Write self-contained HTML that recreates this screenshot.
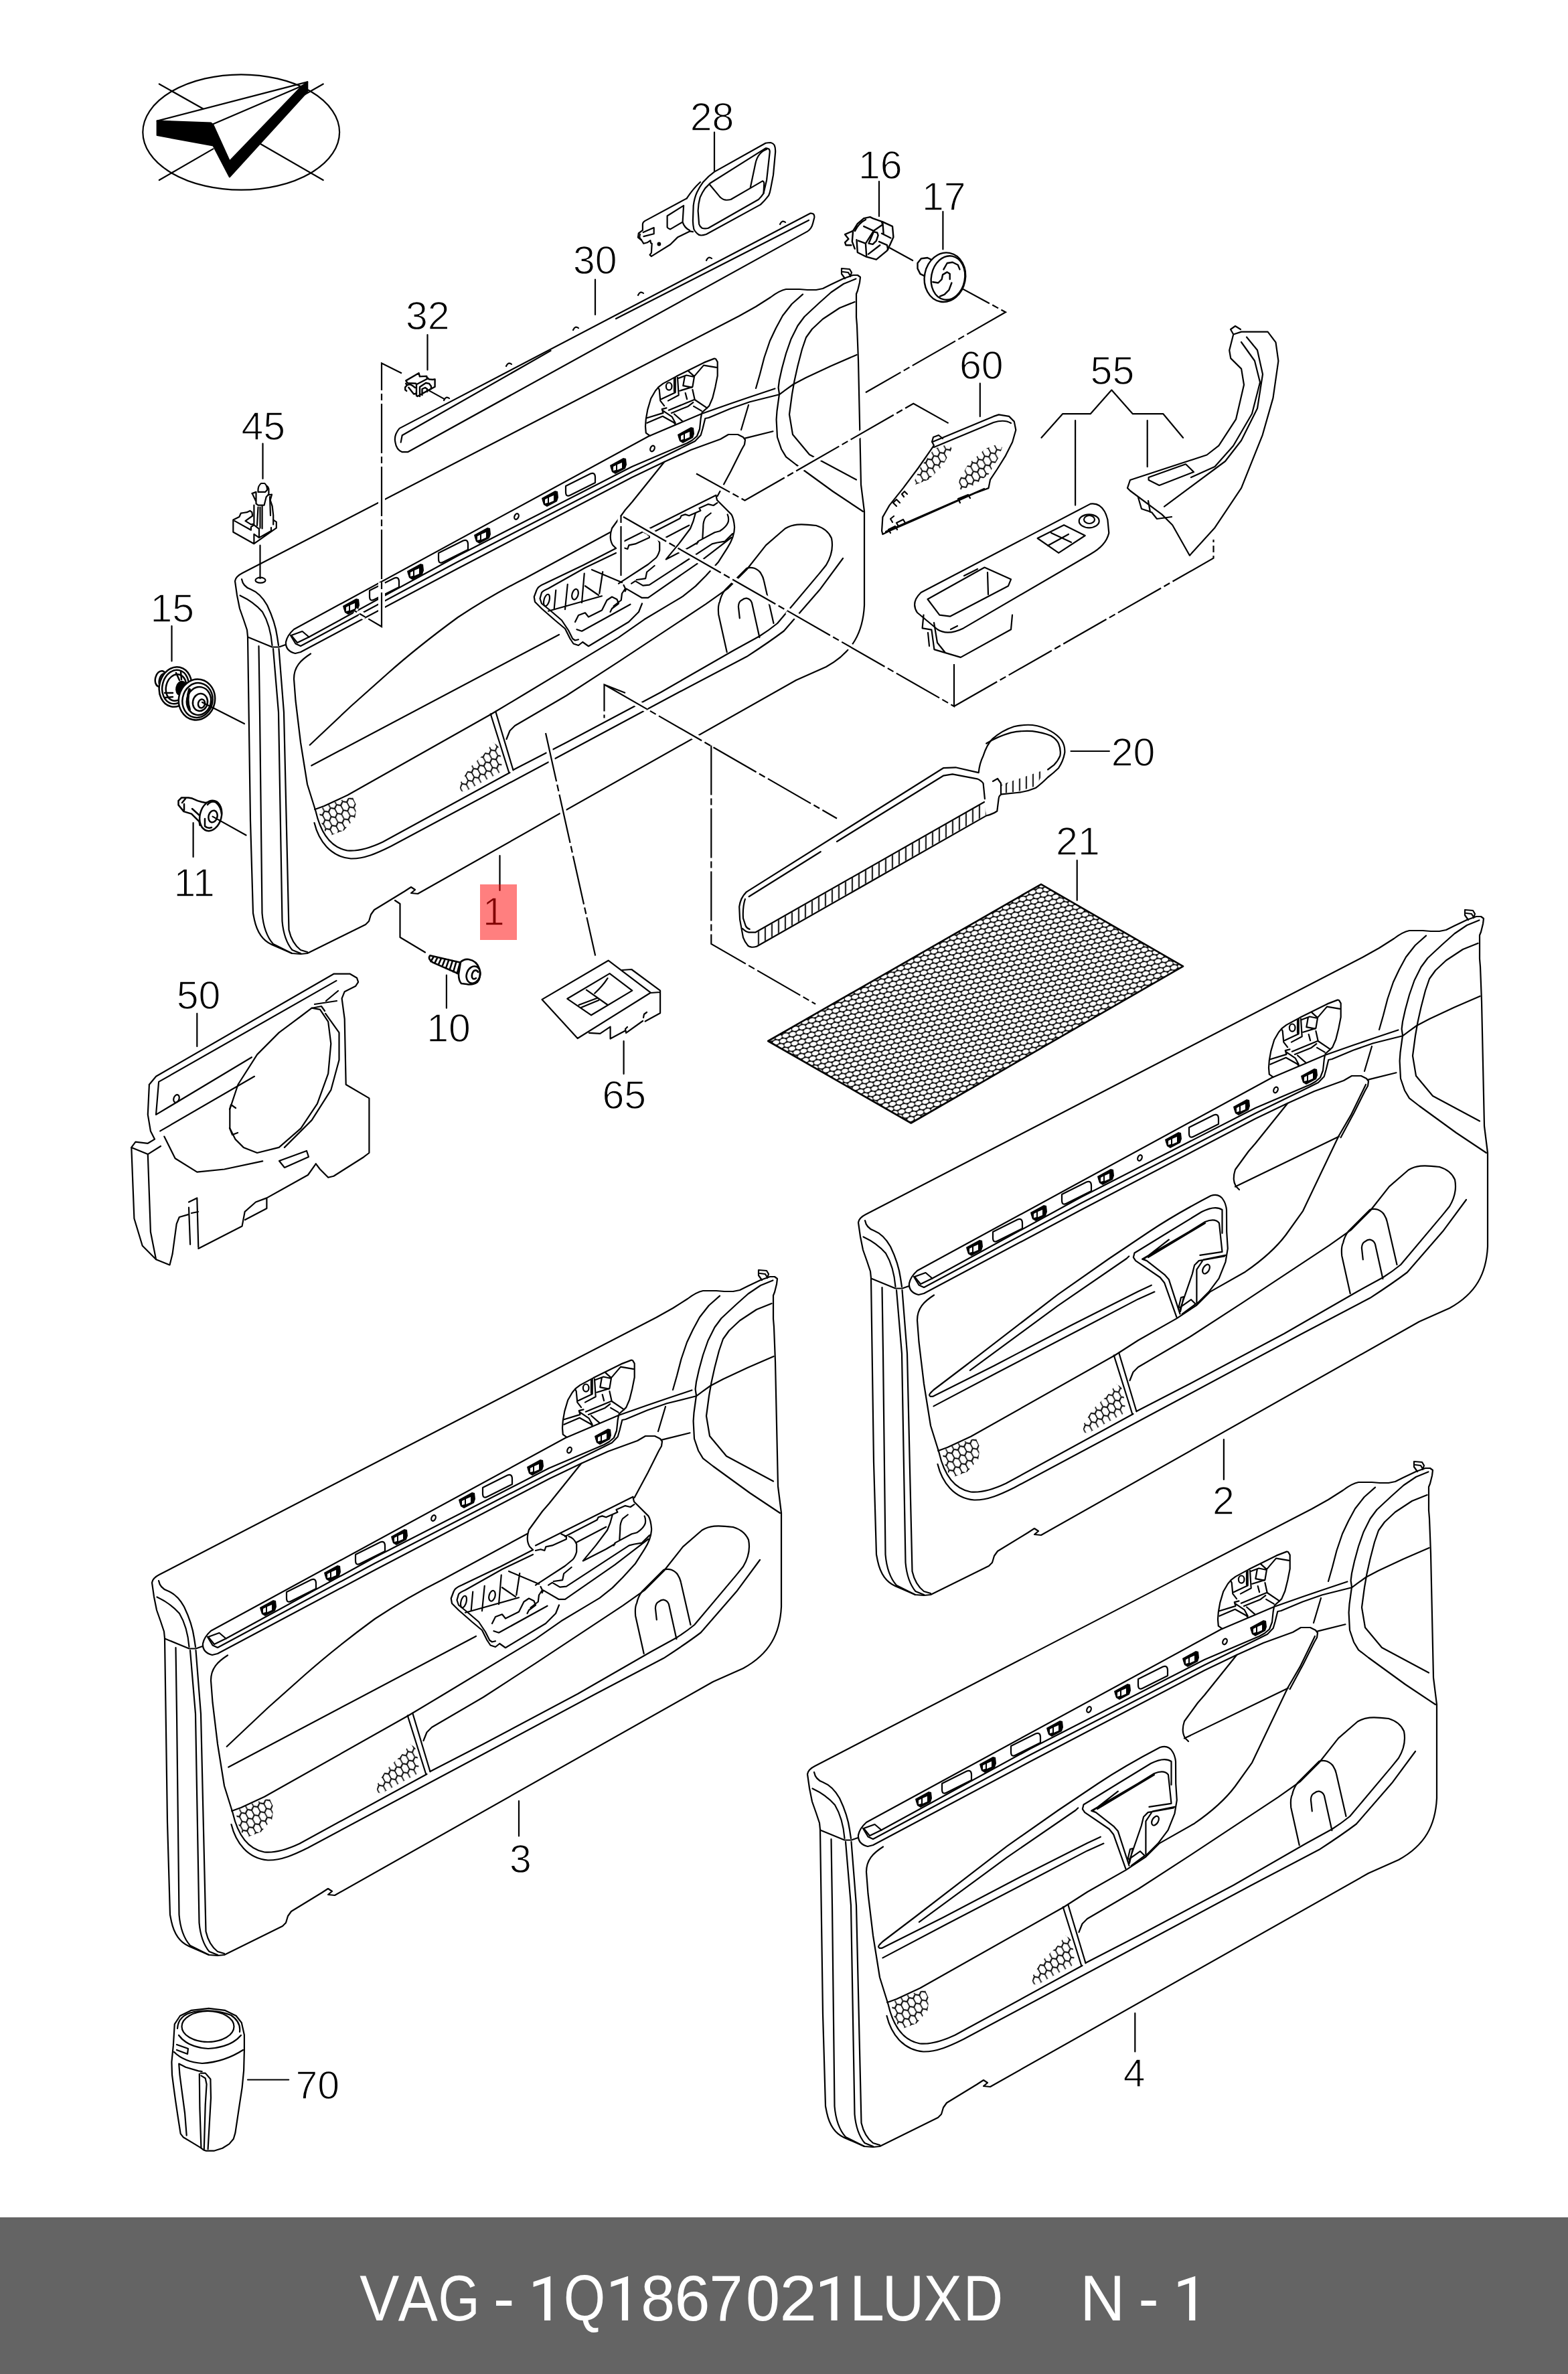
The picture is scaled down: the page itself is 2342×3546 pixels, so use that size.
<!DOCTYPE html>
<html><head><meta charset="utf-8"><style>
html,body{margin:0;padding:0;background:#fff;width:2342px;height:3546px;overflow:hidden}
svg{position:absolute;left:0;top:0;display:block}
</style></head><body>
<svg width="2342" height="3546" viewBox="0 0 2342 3546">
<defs>
<pattern id="teeth" patternUnits="userSpaceOnUse" width="10" height="40" patternTransform="skewY(-29)">
<path d="M3,0 L3,40 M3,6 Q4,2 7,2" fill="none" stroke="#000" stroke-width="2"/>
</pattern>
<pattern id="hexbig" patternUnits="userSpaceOnUse" width="10.8" height="14" patternTransform="rotate(-12)">
<rect width="10.8" height="14" fill="#000"/><g fill="#fff"><ellipse cx="0" cy="0" rx="5.0" ry="3.2"/><ellipse cx="10.8" cy="0" rx="5.0" ry="3.2"/><ellipse cx="5.4" cy="7" rx="5.0" ry="3.2"/><ellipse cx="0" cy="14" rx="5.0" ry="3.2"/><ellipse cx="10.8" cy="14" rx="5.0" ry="3.2"/></g>
</pattern>
<pattern id="hexs" patternUnits="userSpaceOnUse" width="12.12" height="21.00" patternTransform="rotate(-28) scale(0.85,1.15)">
<path d="M0,3.50 L6.06,0 L12.12,3.50 M0,3.50 L0,10.50 M12.12,3.50 L12.12,10.50 M0,10.50 L6.06,14.00 L12.12,10.50 M6.06,14.00 L6.06,21.00 M6.06,0 L6.06,-1" fill="none" stroke="#000" stroke-width="1.9"/>
</pattern>

<g id="pbase">
<!-- outer contour -->
<path d="M238,2352 L980,1968 L1005,1954 L1027,1940 Q1040,1930 1050,1928 L1070,1928 L1082,1929 L1095,1929 L1105,1927 L1117,1921 L1136,1912 L1150,1907 L1157,1907 L1161,1910 L1160,1918 L1157,1930 L1155,1935 L1155,1970 L1156,1982 L1158,2034 L1162,2220 L1167,2260 L1167,2400 C1165,2440 1150,2470 1110,2492 L1065,2512 L500,2831 L490,2830 L496,2825 L490,2821 L480,2827.5 L435,2855 L430,2862 L427,2872 L422,2877 L335,2920 L325,2921 L312,2920 L282,2907 Q262,2898 256,2870 L254,2860 L250,2722 L246,2447 L245,2437 L240,2422 L234,2405 L230,2385 L227,2364 Q228,2357 238,2352 Z"/>
<path d="M1138,1912 L1133,1905 L1133,1897 L1145,1898 L1148,1903 L1146,1909 M1135,1902 L1143,1903 L1146,1908"/>
<!-- cap -->
<path d="M237,2361 Q239,2372 250,2376 Q265,2382 275,2400 Q287,2425 290,2447 L292,2460"/>
<path d="M234.5,2385.5 Q255,2395 268,2410 Q280,2430 282.5,2460"/>
<path d="M246,2447.5 L282.5,2462.5 L292.5,2462.5 L302.5,2459"/>
<!-- strip -->
<path d="M262.5,2461 L264,2560 L267.5,2860 Q270,2890 284,2906 L312,2920"/>
<path d="M284,2465 L292,2560 L297.5,2872 Q300,2900 312.5,2915 L325,2920"/>
<path d="M292.5,2465 L300,2560 L307.5,2885 Q312,2905 325,2915 L335,2918"/>
<!-- rail -->
<path d="M846,2147 L315,2436 Q305,2445 303,2455 Q302,2468 317,2472 L325,2470 L560,2345 L820,2209 L868,2186 L908,2168 L952,2152 L964,2145 L978,2145 L986,2149 L989,2153 L988,2160 L984,2167 L967.5,2200 L947.6,2237"/>
<path d="M310,2445 L317.5,2457.5 L325,2461 L560,2335 L820,2201 L902,2161 L914,2155 L922.7,2146 L925.6,2136 L929.3,2121 L934.4,2120 L966.7,2106.5 L996,2096.3 L1040,2085.3 L1049,2078.7 L1061,2070 L1080,2060 L1117.5,2042.5 L1155.6,2026"/>
<path d="M337.5,2447.5 L560,2326 L820,2193 L902,2158 L910,2153.5 L917,2147.5 L921,2137 L922.7,2121 L924,2114 M846.4,2147 L924,2114 L966.7,2099 L996,2089 L1033.4,2076.5"/>
<path d="M311,2445 L327.5,2439 L337.5,2447.5 L320,2456 Z"/>
<path d="M988.7,2150.6 L1030.5,2140.3"/>
<path d="M868.4,2185.8 L820,2246 L810,2257.5 L790,2285 Q785,2300 791,2310 L796,2315"/>
<!-- ovals -->
<use href="#oval" x="450" y="2376"/>
<use href="#oval" x="553" y="2320"/>
<use href="#oval" x="743" y="2220"/>
<ellipse cx="647.5" cy="2267.5" rx="3" ry="4.5" transform="rotate(25 647.5 2267.5)"/>
<ellipse cx="850.5" cy="2166" rx="3" ry="4.5" transform="rotate(25 850.5 2166)"/>
<!-- clips -->
<use href="#clip" x="400" y="2402"/>
<use href="#clip" x="496" y="2350"/>
<use href="#clip" x="596" y="2296"/>
<use href="#clip" x="697" y="2241"/>
<use href="#clip" x="799" y="2192"/>
<use href="#clip" x="900" y="2146"/>
<!-- handle recess -->
<path d="M846.6,2146.9 L840.8,2142.7 L840,2132.8 L840.8,2122 L843.3,2107.9 L848.2,2091.3 L854.9,2079.7 L859.9,2073.9 L866.5,2068.9 L886.4,2058.1 L927.8,2037.4 L942.8,2031.6 Q945,2031.5 945.2,2032.4 L947.7,2036.6 L947.7,2057.3 L944.4,2073.9 L940.3,2090.5 L935.3,2102.1 L931.2,2106.2 L924.5,2112"/>
<path d="M859,2074.7 L860.7,2078 L862.3,2094.6 L868.1,2102.1 M864,2092.1 L884.7,2082.2 L884.7,2059.8 M883,2062 L883,2081 M888,2059.8 L889.7,2086.3 L873.9,2094.6 M888,2061.5 L901.3,2056.5 L912.9,2059 L910.4,2073.9 L891.4,2079.7 M898.8,2058.1 L896.3,2072.2 L909.6,2074.7 M903.8,2049.9 L912.9,2058.1 L927,2041.6 L946.1,2044.9 M910.4,2078 L913.7,2093 L932,2105.4 M899.7,2083 L902.1,2092.1 M874.8,2108.7 L912.9,2093 M878.9,2112.9 L903.8,2102.9 L911.3,2097.1 M912.1,2102.9 L923.7,2109.6 M842.4,2120.3 L866.5,2112.9 L864.8,2107.1 L871.5,2105.4 M842.4,2127.8 L865.7,2117.8 L882.2,2127 L884.7,2129.5 M866.5,2109.6 L879.8,2118.7 L884.7,2127.8 M883.1,2114.5 L895.5,2125.3"/>
<ellipse cx="875.2" cy="2073.1" rx="4.3" ry="5.6"/>
<!-- window curves -->
<path d="M1075,1935.6 L1058.75,1950 L1045,1967.5 L1035,1986 L1026,2005 L1017.5,2030 L1011,2055 L1005,2076 M994,2101 L983,2138"/>
<path d="M1154.4,1912.5 L1136,1920 L1117.5,1932.5 L1099,1949 L1077.5,1969 L1067.5,1982.5 L1057.5,2002.5 L1050,2024 L1044,2046 L1040,2064 L1038.6,2075 L1040,2084.5 L1036.5,2110 L1035.6,2122.7 L1037,2149 L1043,2166.7 L1050,2178.4 L1065,2190 L1120,2230 L1165,2260"/>
<path d="M1152.5,1947 L1130,1956 L1105,1972.5 L1089,1987.5 L1080,2000 L1074,2017.5 L1067.5,2042.5 L1062.5,2065 L1059,2085 L1055,2115 L1060,2145 L1085,2175 L1155,2212.5"/>
<!-- insert -->
<path d="M340,2472.5 C325,2482 315,2492 315,2510 L317.5,2542.5 L325,2605 L335,2667.5 L347.5,2707.5 C355,2740 370,2762 395,2766.5 C412,2768 430,2762 447.5,2753.75 L637.5,2650 M642.5,2646 L722,2605 L863.1,2530 L972.2,2467.2 L1010.4,2446.2 Q1025,2437 1037.2,2427 L1100,2352.4 L1110,2340 Q1122,2320 1118,2300 Q1112,2286 1095,2281"/>
<path d="M346.25,2705 L360,2700 L395,2683.75 L610,2562.5"/>
<path d="M345.5,2725 C352,2752 370,2776 400,2778.5 C420,2779 440,2770 460,2760 L722,2620 L889.9,2530 L991.3,2476.8 Q1025,2455 1046.8,2438.5 L1100,2377.3 L1135,2330"/>
<path d="M608.75,2562.5 L636.25,2650 M616.25,2558.75 L642.5,2646.25"/>
<path d="M632.5,2600 L637.5,2587.5 L645,2580 L722,2535 L800,2484.4 L930.1,2398.4 L962.6,2375.4 L991.3,2346.7 L1020,2310.4 L1048.7,2285.5 C1060,2279 1070,2278 1095,2281"/>
<path d="M961.7,2470.1 L949.2,2413.7 Q948,2400 951.1,2394.5 Q953,2385 958.8,2377.3 L991.3,2344.8 Q997,2343 1002.8,2344.8 Q1010,2348 1012.4,2352.4 Q1016,2358 1017.1,2363.9 L1031.5,2427 M980.8,2419.4 L978.9,2402.2 Q979,2395 983.7,2392.6 Q988,2389 991.3,2389.7 Q997,2391 999,2396.4 L1010.4,2448.1"/>
<use href="#mesh1" />
</g>
<g id="typeA">
<path d="M341.25,2639.5 L711,2444"/>
<path d="M338.75,2608.75 L400,2551 L455,2502 Q500,2462 560,2418 Q610,2385 660,2360 L787.5,2291"/>
<path d="M610,2562.5 L660,2532.5 L800,2448.1 L838.3,2421.3 L876.5,2398.4 L895.7,2386.9 L914.8,2371.6 L930.1,2356.3 L949.2,2335.2 L962.6,2314.2 Q973,2298 973.1,2283.6 Q972,2270 968.4,2264.4 L947,2243 L945.4,2236"/>
<path d="M800,2308.4 L945.4,2235.7"/>
<path d="M796,2315 L747.5,2340 L690,2367.5 Q679,2372 677.5,2377.5 L673.75,2387.5 L675,2395 L685,2405 L705,2422.5 L720,2435 L727.5,2450 L732.5,2457.5 L740,2460 L746.25,2455 L755,2461.25 L815,2425 L830,2410 L835,2397.5"/>
<path d="M796,2322 L750,2344 L695,2375 Q686,2379 685,2381.25 L682.5,2390 L685,2397.5 L697.5,2407.5 L715,2422.5 L725,2437.5 L731.25,2450 L735,2452.5 L740,2451.25"/>
<path d="M737.5,2436.25 L745,2438.75 L817.5,2398.75 M706.25,2377.5 L703.75,2405 M723.75,2368.75 L720,2406.25 M748.75,2352.5 L745,2396.25 M776.25,2350 L771.25,2382.5 M750,2371.25 L770,2385 M695,2408.75 L775,2386.25 M760,2347 L805,2366"/>
<ellipse cx="735" cy="2383.75" rx="4.5" ry="8" transform="rotate(15 735 2383.75)"/>
<ellipse cx="692.5" cy="2392.5" rx="4" ry="9" transform="rotate(15 692.5 2392.5)"/>
<path d="M735,2425 L740,2415 L750,2411.25 L755,2417.5 L775,2407.5 L782.5,2392.5 L790,2387.5 L797.5,2391.25 L800,2397.5 L790,2405 L787.5,2410 M807.5,2370 L810,2375 L805,2382.5 L803.75,2392.5 L792.5,2401.25"/>
<path d="M968.4,2298.9 L918.6,2337.1 L844,2388.8 L834.4,2388.8 L811.5,2375.4 L809.6,2379.2"/>
<path d="M970.3,2293.1 L958.8,2304.6 L947.3,2306.5 L939.7,2308.4 L845.9,2369.7 L836.3,2370.6 L824.9,2363.9 L819.1,2367.7"/>
<path d="M800,2316 L807.6,2314.2 L813.4,2316 L815.3,2310.4 L824.9,2308.4 L845.9,2298.9 L845.9,2295 L838.3,2291.2 M844,2295 L891.8,2270.2 L893.7,2266.3 L899.5,2264.4 L905.2,2266.3 L922.4,2258.7 L920.5,2254.9 L933.9,2249.1 L941.6,2251 L947.3,2247.2"/>
<path d="M849.7,2295 Q857,2297 861.2,2306.5 L861.2,2318 Q859,2326 855.5,2329.5 L844,2339 L800,2367.7 M861.2,2303.7 L905.2,2280.7 M914.8,2262.5 Q912,2275 907.1,2285.5 L889.9,2308.4 L870.8,2331.4 M937.7,2262.5 L930.1,2268.3 Q926,2275 926.3,2283.6 L925.3,2300.8 M962.6,2264.4 Q965,2270 963.6,2275.9 Q961,2283 951.1,2289.3 L943.5,2291.2 L918.6,2304.6 L916.7,2308.4 M870.8,2331.4 L905,2314 L918.6,2306 M853.6,2341 L842.1,2350.5 L840.2,2360.1 L826.8,2362"/>
</g>
<g id="typeB">
<path d="M339.5,2638.4 L435,2588 L569.4,2518 L645,2478.4 L669.4,2467.6"/>
<path d="M335.7,2617.8 L339.5,2614 L386.9,2578 L525,2471.6 L601.5,2418 L661.1,2378 Q700,2352 753.6,2324 Q766,2320 772,2330 Q776,2336 777,2345"/>
<path d="M335.7,2617.8 Q331,2622 334.9,2623.9 L338,2623.9 L429.8,2578 L544.1,2518 L645,2467 L664.8,2457.7"/>
<path d="M393.9,2584.9 L525,2488.4 L627.5,2418 L631.2,2414.5"/>
<path d="M610,2562.5 L645,2540 L702.5,2507.4 L732.4,2487.5 L752.3,2467.6 L805,2437.7 Q845,2410 865.6,2382.5 L891.1,2346.8 L916.6,2293.2 L944.7,2234.5 L962.6,2203.9 L985,2158"/>
<path d="M647.8,2404.5 L639.5,2409.5 L637.9,2416.1 L641.2,2421.1 L677.7,2446 L684.3,2454.3 L702.5,2505.7 M647.8,2404.5 L690.9,2378 L740,2348 Q760,2338 770.5,2345 L770.5,2380"/>
<path d="M651.1,2418.6 L657.8,2421.1 L684.3,2441.8 L690.9,2449.3 L707.5,2500.7 M651.1,2418.6 L720.8,2378 L745,2363 Q760,2357 766,2365 L770.5,2407.9 L737.4,2412.8 M654.5,2417.8 L690.9,2389.6 M660,2416 L745,2365"/>
<path d="M732.4,2485.8 L750.6,2467.6 L765.6,2447.7 L775.5,2422.8 L778.8,2402.9 L777.2,2378 L777,2345 M773.9,2414.5 L735.7,2421.1 L729.1,2427.7 L725.8,2441 L707.5,2494.1 M732.4,2484.1 L732.4,2434.4 L742.3,2419.5 L775.5,2412.8 M707.5,2490.8 L724.1,2479.2 L730.7,2485.8 L710.8,2500.7 M705,2493 L709,2476 L713,2475 L708,2497"/>
<ellipse cx="746.5" cy="2433.6" rx="4.5" ry="7.5" transform="rotate(30 746.5 2433.6)"/>
<path d="M790,2310.5 L945,2235.5"/>
</g>
<g id="clip"><path d="M-12,-1 L8,-12 L12,-11 L13,-2 L11,4 L-4,12 L-9,9 L-11,3 Z" fill="#000" stroke="none"/><path d="M-7,1 L-3,-1 L-3,6 L-7,7 Z M-1,-2 L6,-5 L6,3 L-1,6 Z" fill="#fff" stroke="none"/></g>
<path id="oval" d="M-22,2 L15,-16.5 Q22,-19 22,-11 L22,-3 L-15,15.5 Q-22,19 -22,11 Z"/>
<g id="mesh1" stroke="none"><path fill="url(#hexs)" d="M352.5,2707.5 L360,2700 L380,2692.5 L402.5,2686.25 L408.75,2700 L406.25,2717.5 L390,2736.25 L370,2743.75 L361.25,2737.5 L355,2722.5 Z"/><path fill="url(#hexs)" d="M562.5,2677.5 L563.75,2665 L577.5,2642.5 L598.75,2622.5 L612.5,2605 L620,2610 L626.25,2635 L622.5,2650 L590,2667.5 L570,2678.75 Z"/></g>
</defs>
<g fill="none" stroke="#000" stroke-width="2.2" stroke-linejoin="round" stroke-linecap="round">
<use href="#pbase"/><use href="#typeA"/>
<g transform="translate(124,-1496)"><use href="#pbase"/><use href="#typeA"/></g>
<g transform="translate(1055,-538)"><use href="#pbase"/><use href="#typeB"/></g>
<g transform="translate(979,286)"><use href="#pbase"/><use href="#typeB"/></g>
</g>


<!-- dash-dot lines -->
<g fill="none" stroke-linejoin="miter" stroke-linecap="butt">
<use href="#dd" stroke="#fff" stroke-width="10" stroke-dasharray="74 5 10 5"/>
<use href="#dd" stroke="#000" stroke-width="2.2" stroke-dasharray="74 5 10 5"/>
<g id="dd" stroke="inherit">
<path d="M600,557.5 L570,542.5 L570,936 L530,912.5"/>
<path d="M927.5,860 L927.5,770 L1425,1055 L1425,992 M1425,1055 L1812.5,833.7 L1812.5,806"/>
<path d="M1412.8,417.9 L1502,466.3 L1292.9,586.2"/>
<path d="M1416.6,632.1 L1364.3,602.8 L1112.5,747.5 L1040,707.5"/>
<path d="M934,1035 L902.5,1022.5 L902.5,1072.5 M902.5,1022.5 L1250,1222.5"/>
<path d="M1062.3,1113.4 L1062.3,1409.9 L1218.1,1499.8"/>
<path d="M815,1095 L889.2,1427.6"/>
</g>
</g>

<!-- ===== PARTS ===== -->
<g id="parts" fill="none" stroke="#000" stroke-width="2.2" stroke-linejoin="round" stroke-linecap="round">
<!-- logo -->
<ellipse cx="360.2" cy="197.5" rx="146.9" ry="86.2"/>
<path d="M237.8,125.5 L303,162.2 M387.8,214.3 L482.7,269 M482.7,125.5 L444.9,147 M318.4,222.4 L237.8,269"/>
<path d="M234.7,180.6 L315.3,183.7 L318.4,186.7 L342.9,240.8 L451,128.6 L459.2,122.4 L459.2,136.7 L342.9,264.3 L318.4,217.3 L234.7,202 Z" fill="#000"/>
<path d="M234.7,180.6 L459.2,122.4 M317.3,185.7 L453,127.6"/>
<!-- 28 handle -->
<path d="M1067,256.6 L1143.6,213.8 Q1147,213 1151.2,213 Q1155,214 1156.6,216.8 Q1158.5,221 1158.1,227.6 L1155,261.2 L1151.2,281.1 Q1150,288 1148.2,291.8 Q1142,300 1135.9,305.6 L1054.8,350 Q1050,351.5 1047.1,351.5 Q1043,351 1041,348.5 Q1038,346 1036.4,342.4 Q1035,336 1034.9,330.1 L1035.7,307.1 Q1037,296 1041,287.2 Q1045,279 1050.2,271.9 Q1058,263 1067,256.6 Z"/>
<path d="M1060.9,273.5 L1143.6,221.4 Q1146,221 1148.9,223 Q1150,225 1149.7,227.6 L1145.1,268.9 L1140.5,288.8 Q1137,294 1132.9,298 L1057.9,340.8 Q1053,342 1048.7,340.8 Q1045,338 1044.1,334.7 L1042.6,314.8 Q1043,304 1045.6,294.9 Q1049,287 1053.3,281.1 Z"/>
<path d="M1059.4,275 L1074.7,293.4 Q1079,298 1083.9,298.7 Q1088,299 1091.5,298 L1120.6,281.1 L1139,270.4 Q1141,271 1141.3,273.5 L1140.5,288.8 M1120.6,281.1 L1128.3,244.4 Q1130,236 1134.4,230.6 Q1139,225 1145.1,223"/>
<path d="M1025.7,296.4 L963,330.1 Q960,332 959.9,334.7 L959.9,343.9 L953.8,348.5 L953,354.6 L958.4,359.2 L961.4,363.8 L966.8,362.3 L971.4,359.2 L972.1,363 L973.7,363.8 L972.9,377.6 L970.6,380.6 L972.9,382.9 L1001.2,365.3 L1011.9,354.6 L1030.3,345.4 L1034.9,346.2"/>
<path d="M996.6,322.5 L1021.1,307.1 L1019.6,331.6 L1001.2,342.4 Q997,341 996.6,339.3 Z M1025.7,296.4 Q1035,282 1046,272 M1019.6,331.6 Q1022,340 1030,344"/>
<path d="M960.7,347 L976.7,340.1 L976.7,349.2 L961.4,353.1 M956,350 Q954,356 958,358"/>
<circle cx="984.4" cy="364.5" r="1.8" fill="#000"/>
<!-- 30 strip -->
<path d="M596.6,639.9 L1210.1,318.7 Q1217,318 1216.3,324.9 L1214.2,333.2 Q1212,342 1206,345.6 L609,675.2 L600.7,675.2 Q592,672 590.4,660.6 Q588,650 596.6,639.9 Z"/>
<path d="M598.7,660.6 L600.7,650.3 L822.5,523.9 M920,476 L1208,329"/>
<path d="M663,598 q3,-7 8,-3 M756,547 q3,-7 8,-3 M856,493 q3,-7 8,-3 M953,441 q3,-7 8,-3 M1055,389 q3,-7 8,-3 M1165,335 q3,-7 8,-3"/>
<!-- 32 clip -->
<path d="M606.2,568.6 L625.6,557.3 L626.9,562.4 L637.3,561.9 L637.9,566 L622,574.2 L621,572.7 L608.8,572.1 Z M637.9,564 L640.9,566.5 L646,567 L649.6,566.5 L649.6,577.8 L639.9,582.9 L623.6,592 L622,591 L622,579.8 M606.2,572.7 L607.8,575.7 L605.2,578.3 L605.2,582.3 L607.2,583.9 M610.3,578.8 L618,588.5 L621.5,588 L622,584.9 M608,575 L612,574 L616,576 L620,579 M627,592 L627,578 L636,572 L641,573 L644,577 L644,581 M630.5,590 L630.5,581 L635,579 L638,581 L638,585 M622,574.2 L622,580" stroke-width="2.4"/>
<path d="M639.9,582.9 L663.9,596.1"/>
<!-- 45 -->
<path d="M385.5,733.4 Q385,726 390,722 L395.3,722 Q399,725 399.1,731.8 L396.1,734.9 L385.5,734.9 Z M382.5,735.6 L382.5,752.3 L385.5,754.6 L394.6,754.6 L397.6,742.5 L401.4,737.9 L401.4,730.3 Q400,726 398.4,725.8 M376.4,737.1 L382.5,734.9 M377.1,737.9 L382.5,749.3 M400.7,739.4 L406,738.7 L403.7,747 L406.7,756.1 L408.2,769.7 L408.2,783.4"/>
<path d="M379.4,754.6 L379.4,781.1 M385.5,757.6 L384,784.9 M388.5,757.6 L388.5,788.7 M391.6,756.1 L391.6,789.5 M403,742 L404,770"/>
<path d="M348.3,776.6 L357.4,772 L359.7,766.7 L363.5,766 L368.8,765.2 L373.4,762.9 L376.4,765.2 L377.1,770.5 L366.5,778.1 L374.9,783.4 L379.4,782.6 M348.3,776.6 L348.3,794.8 L379.4,812.2 L379.4,797.8 L387,803.1 M350.6,778.1 L374.9,791.7 L374.9,787.2 L379.4,784.2 L387,790.2 M379.4,812.2 L412.8,788.7 L412.8,779.6 L408.2,776.6 M387,803.1 L405,793 L405,788 M387,790.2 L387,803.1"/>
<ellipse cx="389" cy="866.7" rx="7.5" ry="4"/>
<!-- 15 -->
<g stroke-width="2.5">
<ellipse cx="240" cy="1014" rx="8" ry="12" transform="rotate(13 240 1014)"/>
<ellipse cx="243" cy="1016" rx="5" ry="10" transform="rotate(13 243 1016)"/>
<ellipse cx="262" cy="1026" rx="24" ry="30" fill="#fff" transform="rotate(13 262 1026)"/>
<ellipse cx="262" cy="1026" rx="19.5" ry="25.5" transform="rotate(13 262 1026)"/>
<ellipse cx="263" cy="1027" rx="15" ry="20" transform="rotate(13 263 1027)"/>
<path d="M246,1035 L258,1035 M246,1042 L258,1041 M263,1005 L268,1016 M270,1003 L271,1015"/>
<ellipse cx="270.5" cy="1028" rx="7" ry="10" fill="#000" transform="rotate(13 270.5 1028)"/>
<ellipse cx="294" cy="1045" rx="27" ry="30.5" fill="#fff" transform="rotate(11 294 1045)"/>
<ellipse cx="295" cy="1046" rx="22.5" ry="26" transform="rotate(11 295 1046)"/>
<ellipse cx="297" cy="1047" rx="18" ry="21" transform="rotate(11 297 1047)"/>
<ellipse cx="299" cy="1049" rx="11" ry="13" transform="rotate(11 299 1049)"/>
<ellipse cx="301" cy="1051" rx="5" ry="6.5" transform="rotate(11 301 1051)"/>
<path d="M283,1030 Q278,1045 283,1060" stroke-width="4"/>
</g>
<!-- 11 -->
<g stroke-width="2.5">
<path d="M266.5,1196.1 L271.1,1191.5 L281.4,1191.5 L287.1,1192.6 L295.2,1196.1 L300.9,1197.8 L306.7,1198.9 L310.1,1198.4 M266.5,1196.1 L266.5,1202.4 L274.5,1212.1 L286,1215.6 L297.5,1227.1 L298.6,1232.8 M275,1201 L275,1210 M287,1208 L298,1218 M277,1193 L272,1199"/>
<ellipse cx="314.7" cy="1218.5" rx="16" ry="23" fill="#fff" transform="rotate(15 314.7 1218.5)"/>
<path d="M310,1202 Q316,1195 323,1199 Q330,1205 331,1216 M306,1223 L306,1234 Q310,1238 316,1236"/>
<ellipse cx="318" cy="1219.5" rx="6.5" ry="9" transform="rotate(15 318 1219.5)"/>
</g>
<!-- 10 screw -->
<g stroke-width="2.6">
<path d="M642.5,1427.2 L692.4,1438.7 M646.5,1437.6 L686,1455 M642.5,1427.2 Q638,1432 646.5,1437.6 M648.0,1428.5 L643.5,1436.2 M653.6,1429.8 L649.1,1438.8 M659.2,1431.0 L654.7,1441.3 M664.8,1432.3 L660.3,1443.9 M670.4,1433.6 L665.9,1446.4 M676.0,1434.9 L671.5,1448.9 M681.6,1436.2 L677.1,1451.5 M687.2,1437.5 L682.7,1454.0"/>
<path d="M688,1437 Q693,1432 700,1433 Q712,1435 716,1447 Q719,1460 713,1467 Q706,1472 697,1470 L689,1469 Q685,1465 685,1455 Z" fill="#fff"/>
<ellipse cx="707" cy="1456" rx="10" ry="13" transform="rotate(20 707 1456)"/>
<path d="M714,1452 Q712,1448 708,1450 Q704,1454 705,1460 Q707,1464 711,1461"/>
</g>
<!-- 16 -->
<g stroke-width="2.4">
<path d="M1279.5,358.2 L1280.8,377 L1294.2,383.7 L1308.9,387.7 L1325,374.3 L1329,366.2 L1334.4,354.2 L1333,338.1 L1318.3,331.4 L1303.6,326.1 L1299.6,324.1 L1290.2,326.1 L1280.8,334.1 L1274.1,344.8 L1272.8,360.9 L1276.8,371.6 M1277,345 Q1283,333 1293,328"/>
<path d="M1290.2,338.1 L1304.9,344.8 L1318.3,335.4 L1317,331.4 M1304.9,344.8 L1292.9,363.6 L1282.1,359.6 M1292.9,363.6 L1294.2,382.3 M1317,348.8 L1330.4,355.5 M1312.9,360.9 L1325,366.2 L1326.3,372.9 M1314.3,366.2 L1296.9,379.6 M1318.3,331.4 L1319.6,348.8"/>
<path d="M1297.5,363.6 L1304.9,346.2 L1310.3,347.5 L1311.6,351.5 L1308.9,359.6 L1303.6,364.9 Z"/>
<path d="M1274.1,344.8 L1262.1,350.2 L1267.4,356.9 L1262.1,362.2 L1263.4,366.2 L1271.4,366.2"/>
</g>
<path d="M1329,370.3 L1363.2,389"/>
<!-- 17 -->
<g stroke-width="2.4">
<path d="M1396,390.4 L1385.3,385 L1375.9,386.3 L1370.5,393 L1370.5,401.1 L1374.5,409.1 L1382.6,413.1"/>
<ellipse cx="1411.4" cy="414.2" rx="30.5" ry="37" fill="#fff" transform="rotate(11 1411.4 414.2)"/>
<ellipse cx="1416" cy="415" rx="25" ry="33" transform="rotate(11 1416 415)"/>
<path d="M1409.4,402.4 L1414.7,393 L1422.8,391.7 L1430.8,395.7 L1433.5,402.4 M1393.3,421.2 L1401.3,422.5 L1406.7,417.1 L1408,410.4 L1414.7,406.4 L1418.7,409.1 L1418.7,417.1 M1404,442.6 L1410.7,439.9 L1417.4,433.2 L1421.4,422.5"/>
</g>
<!-- 60 grille -->
<path d="M1317.1,792.9 L1318.4,772.4 L1328.6,754.6 L1349,729.1 L1371.9,698.5 L1394.9,665.3 L1392.3,660.2 L1484.2,621.9 L1491.8,619.4 L1507.1,621.9 L1514.8,629.6 L1517.3,642.3 L1512.2,660.2 L1502,680.6 L1489.3,701 L1479.1,716.3 L1476.5,729.1 L1456.1,736.7 L1364.3,777.6 L1328.6,792.9 L1318.4,798 Z"/>
<path d="M1395,668 L1484,631 Q1500,626 1510,632 M1323,794 L1470,730"/>
<path d="M1392,660 L1394,653 L1402,650 L1408,655 M1339,756 l-5,-5 l5,-5 l5,5 M1350,742 l-3,-4 l4,-4 l4,4 M1333,780 l-3,-5 l5,-4 M1330,796 l-3,-5 l10,-5 l3,5 M1342,786 l-3,-5 l10,-5 l3,5 M1434,751 l-3,-6 l15,-6 l3,5"/>
<path stroke="none" fill="url(#hexs)" d="M1364.3,721.4 L1374.5,698.5 L1394.9,670.4 L1417.9,662.8 L1421.7,670.4 L1407.7,695.9 L1387.2,716.3 L1366.8,724 Z"/>
<path stroke="none" fill="url(#hexs)" d="M1430.6,729.1 L1433.2,716.3 L1445.9,693.4 L1471.4,670.4 L1491.8,662.8 L1496.9,667.9 L1491.8,683.2 L1476.5,708.7 L1456.1,724 L1435.7,731.6 Z"/>
<!-- 55a switch panel -->
<path d="M1375.6,885 L1628.7,752.6 Q1648,750 1654.4,776.3 L1656.3,796.1 Q1652,815 1628.7,827.7 L1438.9,938.4 Q1415,950 1400,940 L1370,915 Q1360,900 1375.6,885 Z"/>
<path d="M1385.5,895 L1470.5,847.5 L1510,865.3 L1506,875.2 L1419,920.7 L1403.3,918.7 Z M1475,855 L1476,888 M1440,860 L1460,850"/>
<path d="M1549.6,804 L1589.1,784.2 L1620.7,800 L1581.2,825.8 Z M1570,796 L1600,810 M1565,815 L1596,798"/>
<ellipse cx="1626.7" cy="778.3" rx="15" ry="10"/><ellipse cx="1627" cy="776" rx="8" ry="6"/>
<path d="M1379.5,918.7 L1377.6,938.4 L1391.4,940.7 L1395.4,970.1 L1434.9,981.9 L1510,940.3 L1512,918.7 M1395,930 L1400,960 L1412,975 M1430,935 L1420,940 M1386,945 L1388,965"/>
<!-- 55b pull handle -->
<path d="M1842.2,499.5 L1854.1,495.6 L1893.6,495.6 L1905.5,511.4 L1909.4,539.1 L1901.5,594.4 L1885.7,649.8 L1854.1,728.9 L1814.5,788.2 L1776.9,829.7 L1751.2,784.2 L1735.4,768.4 L1688,733 L1684,728.9 L1688,717 L1802.6,679.5 L1820.4,665.6 L1846.1,626.1 L1858,574.7 L1854.1,550.9 L1838.2,535.1 L1836.2,523.3 Z"/>
<path d="M1854,511 L1874,539 L1882,571 L1870,618 L1842,666 L1814.5,697 L1779,713 M1862,503.5 L1878,523 L1886,559 L1878,610 L1854,658 L1830,689 L1739,756.6"/>
<path d="M1715.6,713 L1771,693.3 L1783,705 L1731.5,725 L1715.6,717 Z M1700,743 L1705,760 L1720,765 L1728,775 L1750,772 M1715,748 L1718,765"/>
<path d="M1842,499 L1838,492 L1845,487 L1853,492"/>
<!-- 20 armrest trim -->
<path d="M1114.8,1332.4 L1408.9,1147.2 L1427.3,1146.3 L1461.7,1154.1 Q1463,1140 1468.6,1128.9 Q1474,1112 1482.4,1103.6 Q1497,1091 1514.5,1085.3 Q1528,1082 1542.1,1083 Q1557,1085 1569.6,1092.1 Q1580,1098 1585.7,1105.9 Q1591,1114 1590.3,1124.3 Q1588,1137 1581.1,1147.2 Q1573,1155 1565.1,1161 Q1555,1171 1546.7,1177.1 Q1533,1183 1519.1,1184 L1496.2,1186.3 Q1492,1188 1491.6,1193.1 L1489.3,1211.5 Q1483,1216 1473.2,1218.4 L1130.1,1413.8 Q1126,1415 1122.4,1414.7 Q1118,1414 1116.7,1411.9 Q1112,1406 1110,1400.4 L1105.1,1373.6 L1104.2,1354.4 Q1106,1341 1114.8,1332.4 Z"/>
<path d="M1118.6,1339.2 L1225.7,1272.2 M1250,1257 L1408.9,1158.7 L1422.7,1156.4 L1459.4,1163.3 Q1466,1166 1468.6,1170.2 L1470.9,1193.1 M1473.2,1110.5 Q1490,1100 1510,1094.4 Q1525,1091 1542.1,1092.1 Q1558,1094 1569.6,1099 Q1578,1104 1581.1,1110.5 Q1585,1120 1583.4,1128.9 Q1580,1137 1574.2,1142.6 L1565.1,1149.5 M1112.9,1343 Q1109,1355 1110,1371.7 L1113.8,1383.1 Q1116,1387 1119.6,1387.9 M1109,1387 Q1114,1392 1118.6,1392.7 L1128.2,1392.7 L1470,1198 M1483,1167 L1490,1163 L1495,1170 L1495,1186"/>
<path stroke="none" fill="url(#teeth)" d="M1128.2,1394 L1470,1199 L1473,1217 L1130.1,1412.5 Z M1496,1172 L1560,1150 L1548,1174 L1519,1182.5 L1497,1185 Z"/>
<path d="M1599.5,1122 L1656.9,1122"/>
<!-- 21 mesh -->
<path d="M1147.2,1555 L1555,1320.8 L1767.1,1443.4 L1360.7,1677.5 Z" fill="url(#hexbig)" stroke-width="2.6"/>
<!-- 65 -->
<path d="M809.6,1492.9 L908.6,1434.7 L971.8,1482.7 L862.7,1551 Z M847.3,1491.8 L910.6,1454.1 L944.3,1479.6 L883.1,1516.3 Z M875.9,1478.6 L907.6,1501 M888.2,1483.7 Q900,1473 907.6,1461.2 M864.7,1501 L892.2,1490.8 M867.8,1505.1 L894.3,1493.9"/>
<path d="M929,1449 L943.3,1448 L986.1,1479.6 L986.1,1513.3 L963.7,1525.5 M961,1520 L962,1515 L966,1512 M960,1525 L935.1,1542.9 M935,1542 L934,1537 L937,1534 M933,1540 L911.6,1551.5 L911.6,1533.7 L896.3,1543.9 L880,1542.9 M972,1483 L986,1482"/>
<!-- 50 speaker housing -->
<path d="M222.9,1620 L233.1,1607.8 L498.4,1454.7 L522.9,1454.7 L533.1,1460.8 L535.1,1466.9 L531,1473.1 L514.7,1481.2 L510.6,1491.4 L514.7,1522 L516.7,1620 L551.4,1640.4 L551.4,1722 L543.3,1728.2 L498.4,1756.7 L490.2,1758.8 L478,1746.5 L471.8,1738.4"/>
<path d="M222.9,1620 L220.8,1664.9 L224.9,1689.4 L231,1701.6 L220.8,1707.8 L202.4,1705.7 L196.3,1713.9 L200.4,1820 L212.7,1860.8 L233.1,1881.2 L253.5,1889.4 L257.6,1873.1 L263.7,1828.2 L267.8,1818 L282,1813.9"/>
<path d="M196.3,1713.9 L220.8,1724.1 L240,1712 M220.8,1724.1 L224.9,1840 L233,1881"/>
<path d="M296.3,1864.9 L361.6,1831.4 L365.7,1809.8 L382,1795.5 L398.4,1789.4 L398.4,1805 L366,1822 M398.4,1789.4 L460,1755 L471.8,1738.4"/>
<path d="M282,1795.5 L294.3,1789.4 L296.3,1862.9 M282,1803.7 L284.1,1858.8 M296,1810 L286,1812"/>
<path d="M237.1,1615.9 L502.4,1464.9 M233.1,1664.9 L375.9,1579.2 M239.2,1689.4 L380,1607.8 M237,1617 L233,1665"/>
<path d="M343.3,1656.7 L355.5,1620 L384.1,1575.1 L416.7,1542.4 L449.4,1518 L465.7,1505.7 L478,1507.8 L490.2,1526.1 L494.3,1558.8 L490.2,1603.7 L473.9,1648.6 L449.4,1685.3 L416.7,1713.9 L384.1,1722 L363.7,1713.9 L351.4,1701.6 L343.3,1685.3 Z"/>
<path d="M245.3,1697.6 L261.6,1730.2 L294.3,1750.6 L335.1,1746.5 L392.2,1734.3 M486.1,1513.9 L506.5,1542.4 L506.5,1583.3 L494.3,1628.2 L465.7,1673.1 L424.9,1713.9"/>
<path d="M343,1657 L345,1650 L352,1655 M343,1685 L347,1695 L355,1692 M417,1734 L458,1719 L461,1728 L425,1744 Z M465,1506 L480,1503 L485,1510 M470,1500 L503,1495 M487,1495 L505,1480"/>
<ellipse cx="263.5" cy="1641" rx="4" ry="6" transform="rotate(20 263.5 1641)"/>
<!-- 70 knob -->
<path d="M256.4,3080 L257,3099.1 L259.5,3118.3 L262.1,3137.4 L265.9,3162.9 L269.7,3187.1 L273.6,3192.2 L286.3,3199.9 L299.1,3207.6 L304.2,3211.4 L308,3212.7 L319.5,3212.7 L332.2,3208.8 L342.4,3202.4 L348.8,3194.8 L351.4,3185.9 L353.9,3169.3 L357.7,3143.8 L361.6,3118.3 L364.1,3092.8 L364.9,3062 L364.9,3039.6 L360.8,3021.2 L352.7,3011 L336.3,3002.9 L311.8,2999.8 L285.3,3002.9 L269,3011 L260.8,3023.3 L258.8,3055.9 L256.4,3080"/>
<ellipse cx="310.5" cy="3027" rx="39" ry="23"/>
<path d="M265,3030 Q266,3010 290,3005 Q320,3000 345,3010 Q360,3020 358,3035 M267,3040 Q280,3058 311,3060 Q345,3058 360,3040 M260,3065 Q275,3080 302,3082 Q335,3080 363,3062 M264,3054 L281,3060 L280,3068 L264,3062"/>
<path d="M267.2,3082.6 L268.5,3099.1 L271,3118.3 L276.1,3156.5 L278.7,3189.7 M267.2,3082.6 L277.4,3087.7 L296.5,3093.4 L301.6,3094"/>
<path d="M297.8,3097.9 L298.4,3148.9 L300.4,3207.6 M299.7,3096.6 L306.7,3096.6 L314.4,3105.5 L315,3133.6 L310.6,3210.1 M300.4,3100.4 L306.7,3104.2 L308.6,3113.2 L306.7,3143.8 L304.8,3210.1"/>
<path d="M370,3106.5 L431.2,3106.5"/>
<!-- leaders -->
<path d="M1067,197.5 L1067,255.5 M889,417.5 L889,470 M638.5,500 L638.5,552.5 M392.5,662.5 L392.5,715 M388.5,814.5 L388.5,864 M1313,271 L1313,323 M1408.4,316 L1408.4,372.3 M1463.8,572.7 L1463.8,622.1 M1606.1,628 L1606.1,754.6 M1713.7,628 L1713.7,697.2 M1555.5,653.8 L1587.1,618.2 L1628.7,618.2 L1660.3,582.6 L1691.9,618.2 L1737.4,618.2 L1767,653.8"/>
<path d="M256.5,935 L256.5,987.5 M302,1049 L365,1081 M288.6,1229 L288.6,1280 M317.6,1219.6 L367.5,1247.5 M746.5,1278 L746.5,1330 M666.9,1456.7 L666.9,1505.7 M590,1345 L597.5,1350 L597.5,1400 L635,1422.5 M294.3,1513.9 L294.3,1562.9 M931.6,1555.1 L931.6,1604.1 M1608.7,1285 L1608.7,1344.7"/>
<path d="M775,2690 L775,2742.5 M1827.9,2150 L1827.9,2210 M1695.3,3007 L1695.3,3064.5"/>
</g>

<g class="lb" font-family="Liberation Sans" font-size="59" fill="#000" stroke="#fff" stroke-width="1.3">
<text x="1030.8" y="194.5">28</text>
<text x="856.0" y="409.0">30</text>
<text x="606.0" y="491.5">32</text>
<text x="360.5" y="656.5">45</text>
<text x="1282.0" y="266.5">16</text>
<text x="1377.0" y="314.0">17</text>
<text x="1432.9" y="566.3">60</text>
<text x="1628.6" y="574.2">55</text>
<text x="224.5" y="929.0">15</text>
<text x="259.5" y="1339.0">11</text>
<text x="637.3" y="1556.2">10</text>
<text x="263.8" y="1507.2">50</text>
<text x="899.5" y="1655.6">65</text>
<text x="1659.8" y="1144.1">20</text>
<text x="1577.1" y="1277.3">21</text>
<text x="441.5" y="3135.0">70</text>
<text x="1811.1" y="2262.3">2</text>
<text x="761.0" y="2796.5">3</text>
<text x="1677.8" y="3116.5">4</text>
<text x="721" y="1382">1</text>
</g>
<rect x="717" y="1321" width="55" height="83" fill="rgb(255,0,0)" fill-opacity="0.5"/>
<rect x="0" y="3312" width="2342" height="234" fill="#646464"/>
<g font-family="Liberation Sans" font-size="97" fill="#fff">
<path d="M796.6,3408.2 L822.2,3399.8 L822.2,3466 L813.0,3466 L813.0,3410.5 L796.6,3416 Z"/>
<path d="M912.5,3408.2 L938.1,3399.8 L938.1,3466 L928.9,3466 L928.9,3410.5 L912.5,3416 Z"/>
<path d="M1225.0,3408.2 L1250.6,3399.8 L1250.6,3466 L1241.4,3466 L1241.4,3410.5 L1225.0,3416 Z"/>
<path d="M1759.7,3408.2 L1785.3,3399.8 L1785.3,3466 L1776.1,3466 L1776.1,3410.5 L1759.7,3416 Z"/>
<text transform="translate(537.3,3466) scale(0.913,1)">V</text>
<text transform="translate(594.7,3466) scale(0.911,1)">A</text>
<text transform="translate(654.4,3466) scale(0.822,1)">G</text>
<text transform="translate(736.8,3466) scale(0.981,1)">-</text>
<text transform="translate(842.1,3466) scale(0.823,1)">Q</text>
<text transform="translate(957.2,3466) scale(0.943,1)">8</text>
<text transform="translate(1007.6,3466) scale(0.983,1)">6</text>
<text transform="translate(1059.6,3466) scale(0.927,1)">7</text>
<text transform="translate(1113.9,3466) scale(0.945,1)">0</text>
<text transform="translate(1164.4,3466) scale(1.027,1)">2</text>
<text transform="translate(1268.8,3466) scale(0.970,1)">L</text>
<text transform="translate(1317.8,3466) scale(0.893,1)">U</text>
<text transform="translate(1379.7,3466) scale(0.881,1)">X</text>
<text transform="translate(1439.1,3466) scale(0.843,1)">D</text>
<text transform="translate(1613.3,3466) scale(0.957,1)">N</text>
<text transform="translate(1700.6,3466) scale(0.934,1)">-</text>
</g>
</svg>
</body></html>
